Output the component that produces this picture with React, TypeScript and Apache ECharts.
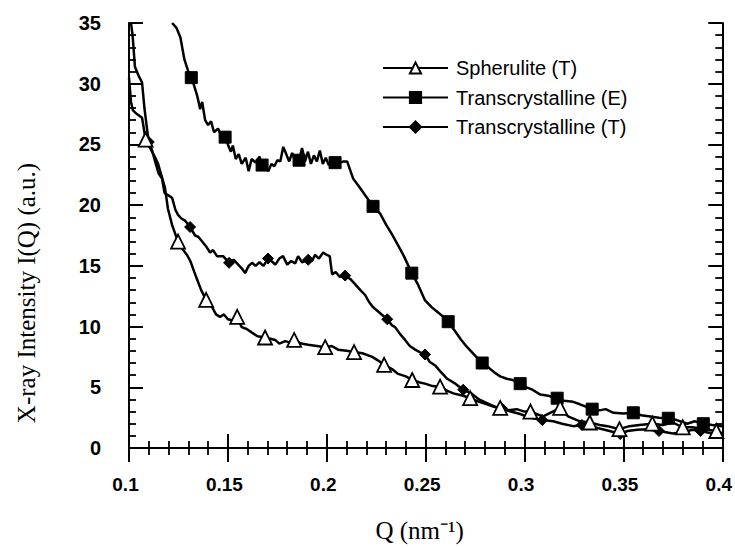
import React, { useEffect, useRef } from "react";
import * as echarts from "echarts";

// Q (nm^-1), I(Q) (a.u.)
const spherulite: [number, number][] = [
  [0.1, 30.5], [0.101, 28.5], [0.102, 27.8], [0.104, 27.5], [0.1066, 27.2], [0.1084, 25.4],
  [0.111, 24.6], [0.113, 24.0], [0.1147, 23.4], [0.1165, 22.4], [0.1182, 21.4], [0.1197, 19.7],
  [0.1218, 18.35], [0.1248, 17.0], [0.127, 16.4], [0.1293, 15.9], [0.131, 15.4], [0.133, 14.5],
  [0.1344, 13.9], [0.1365, 13.0], [0.139, 12.2], [0.1405, 12.0], [0.142, 11.6], [0.144, 11.0],
  [0.146, 10.8], [0.148, 11.0], [0.15, 10.6], [0.1525, 10.5], [0.1547, 10.8], [0.157, 9.95],
  [0.1595, 9.8], [0.1622, 9.5], [0.165, 9.2], [0.1688, 9.1], [0.1715, 9.0], [0.1739, 8.9],
  [0.176, 8.6], [0.179, 8.8], [0.181, 8.7], [0.1835, 8.9], [0.187, 8.6], [0.1906, 8.5],
  [0.195, 8.4], [0.1992, 8.3], [0.2025, 8.4], [0.2057, 8.1], [0.21, 8.0], [0.2138, 7.9],
  [0.218, 7.8], [0.223, 7.5], [0.226, 7.2], [0.229, 6.85], [0.233, 6.5], [0.2361, 6.1],
  [0.24, 5.9], [0.2432, 5.6], [0.247, 5.4], [0.2497, 5.3], [0.2535, 5.1], [0.2573, 5.05],
  [0.261, 4.7], [0.264, 4.5], [0.269, 4.3], [0.2725, 4.1], [0.277, 3.8], [0.281, 3.6],
  [0.2845, 3.4], [0.2877, 3.3], [0.292, 3.1], [0.296, 3.2], [0.3, 3.0], [0.303, 3.0],
  [0.306, 2.8], [0.3094, 2.6], [0.313, 2.9], [0.318, 3.3], [0.322, 2.6], [0.328, 2.2],
  [0.333, 2.1], [0.338, 1.9], [0.342, 1.8], [0.348, 1.55], [0.353, 1.8], [0.358, 1.9],
  [0.3646, 2.0], [0.37, 1.9], [0.375, 2.1], [0.38, 1.7], [0.385, 1.7], [0.3904, 1.55],
  [0.397, 1.4], [0.4, 1.2],
];
const spheruliteMarks = [0.1084, 0.1248, 0.139, 0.1547, 0.1688, 0.1835, 0.1992, 0.2138, 0.229, 0.2432,
  0.2573, 0.2725, 0.2877, 0.303, 0.318, 0.333, 0.348, 0.3646, 0.38, 0.397];

const transE: [number, number][] = [
  [0.1218, 35.0], [0.124, 34.6], [0.126, 33.8], [0.128, 32.0], [0.13, 31.0], [0.1315, 30.5],
  [0.133, 29.8], [0.1345, 29.0], [0.136, 27.9], [0.137, 28.5], [0.1385, 27.0], [0.14, 26.6],
  [0.1415, 26.9], [0.143, 26.0], [0.145, 26.3], [0.147, 25.6], [0.1486, 25.6], [0.15, 25.0],
  [0.1515, 24.4], [0.1525, 24.9], [0.154, 23.8], [0.1555, 24.2], [0.157, 23.4], [0.159, 23.9],
  [0.1605, 22.8], [0.162, 23.8], [0.164, 23.5], [0.166, 24.0], [0.1673, 23.3], [0.169, 23.0],
  [0.1705, 22.8], [0.172, 23.4], [0.1735, 23.2], [0.175, 23.7], [0.1765, 23.6], [0.178, 24.8],
  [0.1795, 24.2], [0.181, 23.6], [0.1825, 24.3], [0.1845, 23.5], [0.186, 23.7], [0.1875, 24.7],
  [0.189, 23.6], [0.1905, 24.4], [0.192, 23.4], [0.1935, 24.1], [0.195, 23.6], [0.1965, 24.5],
  [0.198, 23.4], [0.1995, 23.9], [0.201, 23.3], [0.2027, 23.4], [0.2042, 23.5], [0.207, 23.5],
  [0.2085, 23.6], [0.2103, 23.6], [0.2133, 22.2], [0.2165, 21.5], [0.2195, 20.8], [0.2234, 19.9],
  [0.227, 19.3], [0.23, 18.4], [0.233, 17.6], [0.236, 16.7], [0.239, 15.8], [0.243, 14.4],
  [0.246, 13.5], [0.2497, 12.15], [0.253, 11.6], [0.256, 11.2], [0.259, 10.8], [0.2614, 10.4],
  [0.265, 9.6], [0.268, 8.9], [0.271, 8.3], [0.275, 7.6], [0.2786, 7.0], [0.282, 6.6],
  [0.285, 6.2], [0.2877, 5.9], [0.291, 5.7], [0.294, 5.6], [0.2978, 5.3], [0.301, 5.0],
  [0.304, 4.8], [0.308, 4.4], [0.312, 4.3], [0.3165, 4.1], [0.32, 3.9], [0.3246, 3.8],
  [0.328, 3.6], [0.331, 3.4], [0.3342, 3.2], [0.338, 3.1], [0.341, 3.2], [0.345, 2.9],
  [0.35, 2.85], [0.355, 2.9], [0.359, 2.7], [0.3636, 2.6], [0.368, 2.5], [0.3727, 2.45],
  [0.377, 2.3], [0.3823, 2.0], [0.386, 2.2], [0.3904, 2.0], [0.395, 1.9], [0.4, 1.8],
];
const transEMarks = [0.1315, 0.1486, 0.1673, 0.186, 0.2042, 0.2234, 0.243, 0.2614, 0.2786, 0.2978,
  0.3165, 0.3342, 0.355, 0.3727, 0.3904];

const transT: [number, number][] = [
  [0.101, 35.0], [0.1018, 34.0], [0.103, 31.4], [0.105, 30.6], [0.1066, 30.1], [0.1078, 28.0],
  [0.1091, 26.3], [0.11, 25.2], [0.1115, 24.6], [0.1132, 23.6], [0.115, 22.6], [0.1167, 22.2],
  [0.118, 21.0], [0.12, 20.8], [0.1218, 20.6], [0.1235, 19.6], [0.1248, 19.2], [0.1265, 18.9],
  [0.1285, 18.7], [0.1309, 18.2], [0.1334, 17.5], [0.135, 17.4], [0.137, 17.0], [0.139, 16.6],
  [0.141, 16.1], [0.1425, 16.3], [0.1445, 15.8], [0.1476, 15.8], [0.1506, 15.25], [0.153, 15.5],
  [0.1552, 15.1], [0.157, 14.8], [0.1587, 14.4], [0.1605, 15.0], [0.1622, 15.25], [0.164, 15.0],
  [0.166, 15.3], [0.168, 15.0], [0.1703, 15.6], [0.172, 15.4], [0.174, 15.1], [0.176, 15.6],
  [0.1779, 15.8], [0.18, 15.1], [0.182, 15.4], [0.184, 15.2], [0.1855, 15.8], [0.1875, 15.3],
  [0.1906, 15.5], [0.1925, 15.4], [0.1941, 15.9], [0.196, 15.6], [0.1982, 16.1], [0.2, 15.9],
  [0.2015, 15.8], [0.2027, 14.3], [0.2045, 14.5], [0.2065, 14.1], [0.2093, 14.2], [0.212, 13.9],
  [0.2143, 13.5], [0.217, 13.0], [0.2194, 12.6], [0.2215, 12.0], [0.2234, 11.6], [0.227, 11.1],
  [0.2306, 10.6], [0.233, 10.1], [0.2346, 9.95], [0.237, 9.4], [0.2396, 8.9], [0.242, 8.4],
  [0.2447, 8.1], [0.247, 7.9], [0.2497, 7.7], [0.252, 7.1], [0.2548, 6.8], [0.258, 6.2],
  [0.2609, 5.7], [0.265, 5.3], [0.269, 4.8], [0.273, 4.5], [0.277, 4.0], [0.281, 3.7],
  [0.285, 3.4], [0.2887, 3.25], [0.293, 3.0], [0.2978, 2.8], [0.301, 2.6], [0.3044, 2.45],
  [0.309, 2.3], [0.3145, 2.2], [0.319, 2.0], [0.3246, 1.8], [0.329, 1.9], [0.3332, 1.8],
  [0.338, 1.6], [0.343, 1.4], [0.3484, 1.15], [0.352, 1.4], [0.357, 1.5], [0.362, 1.55],
  [0.368, 1.4], [0.375, 1.2], [0.38, 1.3], [0.385, 1.5], [0.389, 1.4], [0.395, 1.2], [0.4, 1.15],
];
const transTMarks = [0.11, 0.1309, 0.1506, 0.1703, 0.1906, 0.2093, 0.2306, 0.2497, 0.269, 0.2887,
  0.309, 0.329, 0.3484, 0.368, 0.389];

const seriesNames = ["Spherulite (T)", "Transcrystalline (E)", "Transcrystalline (T)"];
const xTicks = { min: 0.1, max: 0.4, step: 0.05 };
const yTicks = { min: 0, max: 35, step: 5 };
const xTitle = "Q (nm\u207B\u00B9)";
const yTitle = "X-ray Intensity I(Q) (a.u.)";

function withMarks(data: [number, number][], marks: number[]) {
  const idx = new Set<number>();
  marks.forEach((m) => {
    let best = 0;
    data.forEach((d, i) => {
      if (Math.abs(d[0] - m) < Math.abs(data[best][0] - m)) best = i;
    });
    idx.add(best);
  });
  return data.map((d, i) => (idx.has(i) ? { value: d } : { value: d, symbol: "none" }));
}

const LABEL_FONT = "'Liberation Sans', Arial, sans-serif";
const TITLE_FONT = "'Liberation Serif', 'Times New Roman', serif";

export default function App() {
  const ref = useRef<HTMLDivElement>(null);
  useEffect(() => {
    if (!ref.current) return;
    const chart = echarts.init(ref.current, null, { renderer: "svg" });
    const tickCommon = {
      axisLine: { show: true, lineStyle: { color: "#000", width: 2 } },
      axisTick: { show: true, inside: true, length: 14, lineStyle: { color: "#000", width: 2 } },
      minorTick: { show: true, splitNumber: 5, length: 7, lineStyle: { color: "#000", width: 1.8 } },
      splitLine: { show: false },
      minorSplitLine: { show: false },
    };
    const lineStyle = { color: "#000", width: 2.5 };
    chart.setOption({
      animation: false,
      backgroundColor: "#fff",
      grid: { left: 129, top: 23, right: 12, bottom: 95 },
      graphic: [
        {
          type: "text",
          x: 26,
          y: 293,
          rotation: Math.PI / 2,
          style: {
            text: yTitle,
            fontFamily: TITLE_FONT,
            fontSize: 25,
            fill: "#000",
            textAlign: "center",
            textVerticalAlign: "middle",
          },
        },
      ],
      legend: {
        orient: "vertical",
        left: 377,
        top: 53,
        itemWidth: 65,
        itemHeight: 14,
        itemGap: 9.5,
        data: seriesNames,
        textStyle: { fontFamily: LABEL_FONT, fontSize: 20, color: "#000", padding: [0, 0, 0, 3] },
        selectedMode: false,
      },
      xAxis: [
        {
          type: "value",
          min: xTicks.min,
          max: xTicks.max,
          interval: xTicks.step,
          name: xTitle,
          nameLocation: "middle",
          nameGap: 70,
          nameTextStyle: { fontFamily: TITLE_FONT, fontSize: 25, color: "#000", padding: [0, 12, 0, 0] },
          axisLabel: {
            margin: 27,
            color: "#000",
            fontFamily: LABEL_FONT,
            fontWeight: "bold",
            fontSize: 19,
            padding: [0, 7, 0, 0],
            formatter: (v: number) => String(parseFloat(v.toFixed(2))),
          },
          ...tickCommon,
        },
        {
          type: "value",
          position: "top",
          min: xTicks.min,
          max: xTicks.max,
          interval: xTicks.step,
          axisLabel: { show: false },
          ...tickCommon,
        },
      ],
      yAxis: [
        {
          type: "value",
          min: yTicks.min,
          max: yTicks.max,
          interval: yTicks.step,
          axisLabel: {
            margin: 28,
            color: "#000",
            fontFamily: LABEL_FONT,
            fontWeight: "bold",
            fontSize: 20,
          },
          ...tickCommon,
        },
        {
          type: "value",
          position: "right",
          min: yTicks.min,
          max: yTicks.max,
          interval: yTicks.step,
          axisLabel: { show: false },
          ...tickCommon,
        },
      ],
      series: [
        {
          name: seriesNames[0],
          type: "line",
          data: withMarks(spherulite, spheruliteMarks),
          symbol: "triangle",
          symbolSize: 14,
          showAllSymbol: true,
          itemStyle: { color: "#fff", borderColor: "#000", borderWidth: 1.8 },
          lineStyle,
          silent: true,
          z: 3,
        },
        {
          name: seriesNames[1],
          type: "line",
          data: withMarks(transE, transEMarks),
          symbol: "rect",
          symbolSize: 12,
          showAllSymbol: true,
          itemStyle: { color: "#000", borderColor: "#000", borderWidth: 1 },
          lineStyle,
          silent: true,
          z: 2,
        },
        {
          name: seriesNames[2],
          type: "line",
          data: withMarks(transT, transTMarks),
          symbol: "diamond",
          symbolSize: 11,
          showAllSymbol: true,
          itemStyle: { color: "#000", borderColor: "#000", borderWidth: 1 },
          lineStyle,
          silent: true,
          z: 2,
        },
      ],
    });
    return () => chart.dispose();
  }, []);
  return (
    <div style={{ position: "fixed", left: 0, top: 0, width: 735, height: 548, background: "#fff" }}>
      <div ref={ref} style={{ width: 735, height: 548 }} />
    </div>
  );
}
